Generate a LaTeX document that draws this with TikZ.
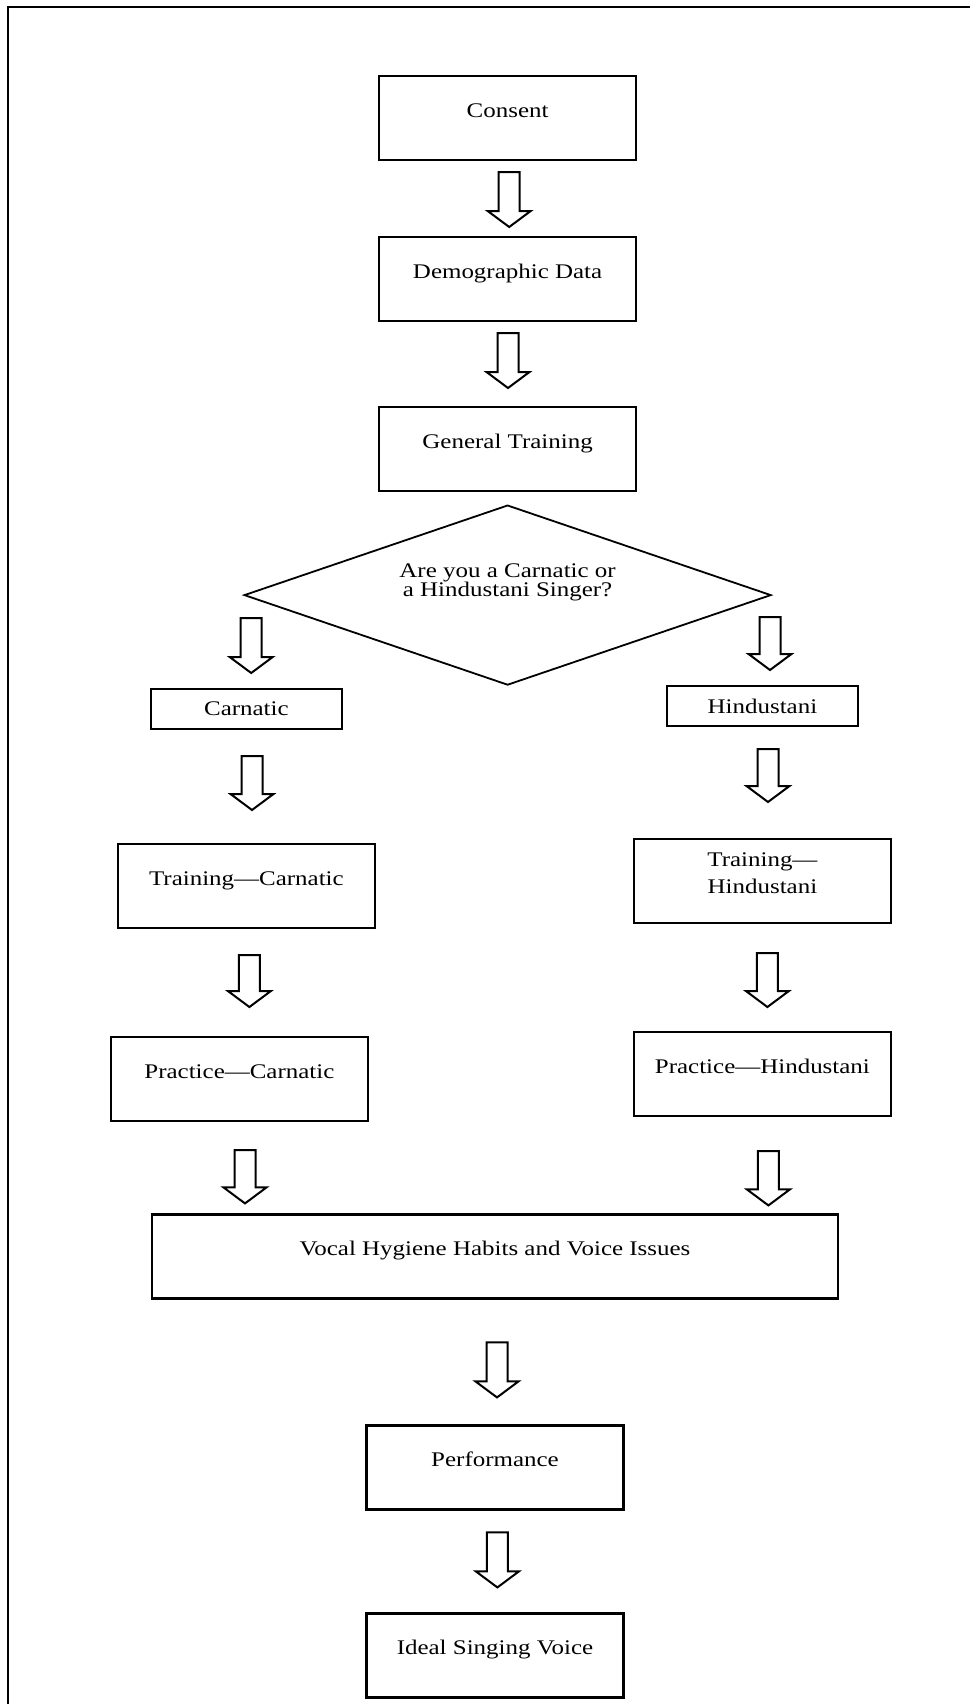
\documentclass[tikz,border=0pt]{standalone}
\usepackage{fontspec}
\setmainfont{Liberation Serif}[FakeStretch=1.2]
\usetikzlibrary{positioning,shapes.geometric,calc}

\begin{document}
\begin{tikzpicture}[
  font=\fontsize{14.8pt}{13.5pt}\selectfont,
  desvio/.store in=\fdesvio, arriba/.store in=\farriba, abajo/.store in=\fabajo,
  desvio=0mm, arriba=3mm, abajo=3mm,
  base/.style={draw, line width=0.6mm, align=center, inner sep=0pt},
  caja/.style={base, minimum width=64.25mm, minimum height=21mm, text height=3.5mm, text depth=4mm},
  cajita/.style={base, minimum width=47.75mm, minimum height=10mm},
  rombo/.style={draw, diamond, line width=0.45mm, shape aspect=2.93, minimum width=131.75mm, minimum height=45mm, inner sep=0pt, align=center, text height=3.5mm, text depth=3mm},
  hueca/.style={draw, line width=0.5mm, fill=white, to path={let \p1=(\tikztostart), \p2=(\tikztotarget) in
    (\x1+\fdesvio-2.625mm,\y1-\farriba) -- (\x1+\fdesvio-2.625mm,\y2+\fabajo+4mm) -- (\x1+\fdesvio-5.375mm,\y2+\fabajo+4mm)
    -- (\x1+\fdesvio,\y2+\fabajo) -- (\x1+\fdesvio+5.375mm,\y2+\fabajo+4mm) -- (\x1+\fdesvio+2.625mm,\y2+\fabajo+4mm)
    -- (\x1+\fdesvio+2.625mm,\y1-\farriba) -- cycle}},
  marco/.style={line width=0.5mm}]
\useasboundingbox (0,0) rectangle (242.5mm,-426mm);
\draw[marco] (2.07mm,-430mm) |- (246mm,-1.7mm);
\node[caja] (consent) at (126.9mm,-29.5mm) {Consent};
\node[caja, below=18.65mm of consent] (demo) {Demographic Data};
\node[caja, below=20.9mm of demo] (gen) {General Training};
\node[rombo, below=3mm of gen] (preg) {Are you a Carnatic or\\a Hindustani Singer?};
\node[cajita] (carn) at (61.6mm,-177.25mm) {Carnatic};
\node[cajita] (hind) at (190.6mm,-176.5mm) {Hindustani};
\node[caja, below=28.15mm of carn] (trainc) {Training—Carnatic};
\node[caja, below=27.65mm of hind, text height=10mm] (trainh) {Training—\\[5.7pt]Hindustani};
\node[caja, below=26.65mm of trainc, xshift=-1.75mm] (pracc) {Practice—Carnatic};
\node[caja, below=26.65mm of trainh] (prach) {Practice—Hindustani};
\node[caja, minimum width=171.5mm] (vocal) at (123.75mm,-314.1mm) {Vocal Hygiene Habits and Voice Issues};
\node[caja, below=31.15mm of vocal] (perf) {Performance};
\node[caja, below=25.4mm of perf] (ideal) {Ideal Singing Voice};
\draw[hueca, desvio=0.4mm, arriba=2.7mm, abajo=2.2mm] (consent.south) to (demo.north);
\draw[hueca, desvio=0.1mm, arriba=2.7mm, abajo=4.45mm] (demo.south) to (gen.north);
\draw[hueca, desvio=2mm, arriba=5.75mm, abajo=3.7mm] (preg.west) to (carn.north);
\draw[hueca, desvio=-0.5mm, arriba=5.5mm, abajo=3.7mm] (preg.east) to (hind.north);
\draw[hueca, desvio=1.4mm, arriba=6.45mm, abajo=8.2mm] (carn.south) to (trainc.north);
\draw[hueca, desvio=1.4mm, arriba=5.45mm, abajo=8.95mm] (hind.south) to (trainh.north);
\draw[hueca, desvio=0.75mm, arriba=6.45mm, abajo=7.2mm] (trainc.south) to (pracc.north);
\draw[hueca, desvio=1.25mm, arriba=7.2mm, abajo=5.95mm] (trainh.south) to (prach.north);
\draw[hueca, desvio=1.4mm, arriba=6.95mm, abajo=2.45mm] (pracc.south) to (vocal.north);
\draw[hueca, desvio=1.5mm, arriba=8.45mm, abajo=1.95mm] (prach.south) to (vocal.north);
\draw[hueca, desvio=0.5mm, arriba=10.7mm, abajo=6.7mm] (vocal.south) to (perf.north);
\draw[hueca, desvio=0.6mm, arriba=5.45mm, abajo=6.2mm] (perf.south) to (ideal.north);
\end{tikzpicture}
\end{document}
